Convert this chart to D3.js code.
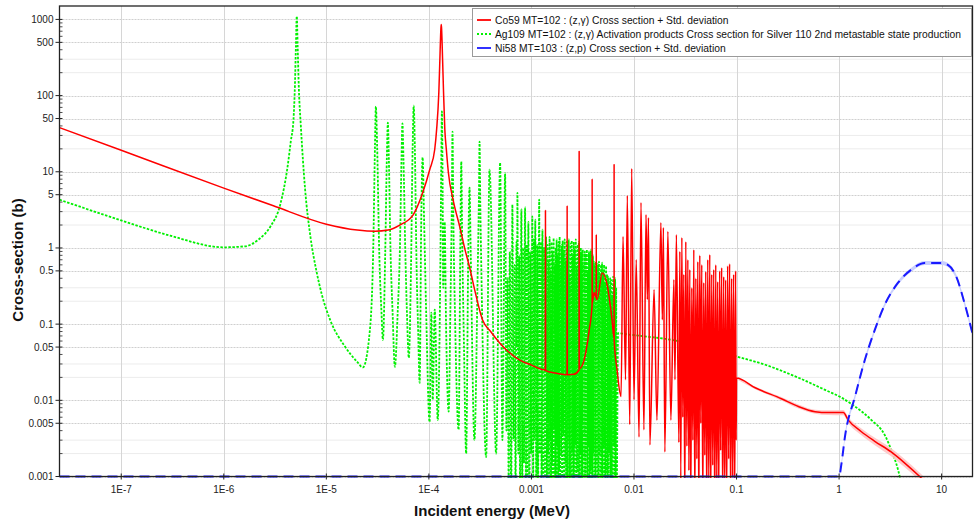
<!DOCTYPE html>
<html>
<head>
<meta charset="utf-8">
<script src="https://cdn.jsdelivr.net/npm/d3@7"></script>
<style>
  body { margin: 0; background: #fff; }
  text { font-family: "Liberation Sans", Arial, sans-serif; }
</style>
</head>
<body>
<div id="chart"></div>
<script>
// ---- data: [energy MeV, cross-section b] ----

// Co59 (z,g): 1/v part, 132 eV resonance, isolated spikes
const co59Low = [
  [2.5e-8, 38], [1e-7, 19.2], [1e-6, 6.1], [3e-6, 3.6], [1e-5, 2.05], [2e-5, 1.72],
  [3e-5, 1.66], [4e-5, 1.72], [5.2e-5, 2.0], [7e-5, 2.7], [8.7e-5, 5.3], [1.02e-4, 10.7],
  [1.14e-4, 19.6], [1.19e-4, 36], [1.25e-4, 110], [1.28e-4, 300], [1.31e-4, 760], [1.32e-4, 860],
  [1.33e-4, 760], [1.36e-4, 300], [1.39e-4, 110], [1.43e-4, 36], [1.48e-4, 19.6], [1.55e-4, 9.7],
  [1.72e-4, 4.3], [2.0e-4, 1.9], [2.25e-4, 0.95], [2.5e-4, 0.55], [2.8e-4, 0.28], [3.33e-4, 0.114],
  [4.0e-4, 0.08], [4.88e-4, 0.057], [6.0e-4, 0.043], [7.63e-4, 0.034],
  [1.0e-3, 0.029], [1.365e-3, 0.025], [1.37e-3, 3.1], [1.375e-3, 0.0245], [1.8e-3, 0.0225],
  [2.225e-3, 0.0217], [2.23e-3, 3.6], [2.235e-3, 0.0217], [2.6e-3, 0.022], [2.915e-3, 0.025],
  [2.92e-3, 18.5], [2.925e-3, 0.026], [3.27e-3, 0.034], [3.66e-3, 0.084], [3.905e-3, 0.18],
  [3.91e-3, 8.1], [3.915e-3, 0.19], [4.09e-3, 0.26], [4.285e-3, 0.22], [4.29e-3, 1.5],
  [4.295e-3, 0.21], [4.37e-3, 0.21], [4.89e-3, 0.47], [5.47e-3, 0.33], [6.11e-3, 0.114],
  [6.395e-3, 0.065], [6.4e-3, 12.4], [6.405e-3, 0.063], [6.84e-3, 0.025], [7.48e-3, 0.0112]
];

// Co59 resolved resonance forest 7.8 keV - 100 keV
const co59Forest = [
  [7.82e-3, 1.41], [8.27e-3, 0.0186], [8.61e-3, 4.87], [9.09e-3, 0.0048], [9.5e-3, 11.0],
  [1.0e-2, 0.0102], [1.052e-2, 0.70], [1.12e-2, 0.0033], [1.17e-2, 3.94], [1.25e-2, 0.0041],
  [1.31e-2, 2.74], [1.35e-2, 0.21], [1.384e-2, 2.5], [1.43e-2, 0.0026], [1.57e-2, 0.283],
  [1.674e-2, 0.0055], [1.83e-2, 2.15], [1.89e-2, 0.114], [1.935e-2, 1.85], [2.0e-2, 0.0021],
  [2.14e-2, 1.64], [2.29e-2, 0.0055], [2.45e-2, 0.383], [2.51e-2, 0.0186], [2.59e-2, 1.49],
  [0.0274, 0.0028], [0.0280, 0.9], [0.0286, 0.0009], [0.0293, 1.37], [0.0299, 0.006],
  [0.0306, 0.45], [0.0313, 0.0004], [0.0320, 1.21], [0.0328, 0.0025], [0.0335, 0.7],
  [0.0343, 0.0012], [0.0350, 0.52], [0.0358, 0.0004], [0.0366, 0.3], [0.0375, 0.003],
  [0.0383, 0.95], [0.0392, 0.0004], [0.0401, 0.4], [0.0410, 0.0017], [0.0419, 0.66],
  [0.0429, 0.0003], [0.0438, 0.8], [0.0448, 0.005], [0.0458, 0.60], [0.0469, 0.0004],
  [0.0479, 0.35], [0.0490, 0.0019], [0.0501, 0.49], [0.0512, 0.0004], [0.0524, 0.7],
  [0.0536, 0.0008], [0.0548, 0.82], [0.0560, 0.0004], [0.0573, 0.45], [0.0586, 0.0014],
  [0.0599, 0.52], [0.0613, 0.0003], [0.0627, 0.6], [0.0641, 0.0009], [0.0655, 0.36],
  [0.0670, 0.0004], [0.0685, 0.5], [0.0700, 0.0022], [0.0716, 0.55], [0.0733, 0.0004],
  [0.0749, 0.42], [0.0766, 0.0007], [0.0783, 0.38], [0.0801, 0.0004], [0.0819, 0.58],
  [0.0838, 0.0017], [0.0856, 0.62], [0.0876, 0.0004], [0.0896, 0.4], [0.0916, 0.001],
  [0.0937, 0.45], [0.0958, 0.0004], [0.0980, 0.5], [0.0991, 0.003]
];

// Co59 above 100 keV: [E, xs, relative std. deviation]
const co59High = [
  [0.1, 0.0197, 0.04], [0.152, 0.0146, 0.04], [0.274, 0.0105, 0.05], [0.401, 0.0083, 0.06],
  [0.583, 0.0071, 0.06], [0.785, 0.0069, 0.07], [1.1, 0.0069, 0.08], [1.23, 0.0055, 0.09],
  [1.64, 0.0039, 0.1], [2.23, 0.0029, 0.11], [3.22, 0.0021, 0.12], [4.37, 0.0015, 0.12],
  [6.11, 0.001, 0.12], [8, 0.0007, 0.12], [20, 0.0002, 0.12]
];

// Ag109 -> Ag110m: 1/v part and the 5.2 eV resonance
const agLow = [
  [2.5e-8, 4.3], [1e-7, 2.3], [3e-7, 1.45], [1e-6, 1.02], [1.6e-6, 1.05], [2.2e-6, 1.3],
  [2.84e-6, 1.9], [3.55e-6, 3.7], [4.2e-6, 12], [4.5e-6, 25], [4.78e-6, 48], [4.95e-6, 150],
  [5.05e-6, 450], [5.15e-6, 1100], [5.25e-6, 450], [5.4e-6, 120], [5.64e-6, 40], [6.2e-6, 6],
  [7e-6, 1.4], [8e-6, 0.5], [9e-6, 0.25], [1.1e-5, 0.11], [1.5e-5, 0.052], [2.0e-5, 0.032],
  [2.27e-5, 0.027]
];

// Ag109 resonances 30 eV - 1.4 keV
const agRes = [
  [2.66e-5, 0.084], [2.87e-5, 1.05], [2.98e-5, 21.7], [3.04e-5, 72], [3.13e-5, 21.7],
  [3.27e-5, 1.05], [3.45e-5, 0.141], [3.56e-5, 0.062], [3.76e-5, 1.0], [3.89e-5, 15],
  [3.98e-5, 44], [4.07e-5, 15], [4.22e-5, 1.0], [4.42e-5, 0.15], [4.66e-5, 0.0275],
  [4.97e-5, 0.15], [5.22e-5, 1.0], [5.41e-5, 15], [5.52e-5, 43], [5.65e-5, 15], [5.88e-5, 1.0],
  [6.1e-5, 0.15], [6.37e-5, 0.036], [6.7e-5, 0.6], [6.94e-5, 20], [7.12e-5, 74], [7.3e-5, 20],
  [7.58e-5, 0.6], [7.86e-5, 0.08], [8.13e-5, 0.017], [8.43e-5, 2.5], [8.69e-5, 15.4],
  [8.97e-5, 2.5], [9.4e-5, 0.15], [1.016e-4, 0.0052], [1.057e-4, 0.141], [1.09e-4, 0.0102],
  [1.14e-4, 0.155], [1.22e-4, 0.0055], [1.29e-4, 0.4], [1.32e-4, 12], [1.34e-4, 62],
  [1.36e-4, 8], [1.38e-4, 0.3], [1.425e-4, 2.2], [1.47e-4, 0.1], [1.56e-4, 0.0071],
  [1.62e-4, 0.15], [1.67e-4, 3], [1.70e-4, 33.7], [1.73e-4, 3], [1.80e-4, 0.12],
  [1.95e-4, 0.0041], [2.03e-4, 1.5], [2.07e-4, 13.6], [2.11e-4, 1.5], [2.2e-4, 0.05],
  [2.31e-4, 0.002], [2.42e-4, 0.8], [2.49e-4, 6.2], [2.56e-4, 0.8], [2.78e-4, 0.003],
  [3.0e-4, 0.6], [3.07e-4, 4], [3.12e-4, 24.9], [3.17e-4, 4], [3.25e-4, 0.5], [3.62e-4, 0.0018],
  [3.9e-4, 10.7], [4.53e-4, 0.002], [4.95e-4, 13.2], [5.21e-4, 0.003], [5.54e-4, 9.6],
  [5.7e-4, 0.004], [5.85e-4, 0.4], [6.0e-4, 0.0008], [6.15e-4, 0.9], [6.35e-4, 0.0005],
  [6.52e-4, 3.7], [6.7e-4, 0.003], [6.85e-4, 0.6], [7.0e-4, 0.0006], [7.15e-4, 1.2],
  [7.22e-4, 0.05], [7.3e-4, 5.3], [7.45e-4, 0.002], [7.6e-4, 0.8], [7.75e-4, 0.0005],
  [7.98e-4, 3.2], [8.15e-4, 0.0006], [8.3e-4, 1.0], [8.45e-4, 0.0015], [8.67e-4, 3.4],
  [8.85e-4, 0.0004], [9.0e-4, 1.1], [9.15e-4, 0.001], [9.33e-4, 2.2], [9.55e-4, 0.0004],
  [9.75e-4, 0.9], [9.95e-4, 0.002], [1.02e-3, 2.6], [1.04e-3, 0.0005], [1.055e-3, 1.3],
  [1.07e-3, 0.003], [1.09e-3, 2.35], [1.115e-3, 0.0006], [1.14e-3, 1.1], [1.16e-3, 0.0004],
  [1.19e-3, 4.3], [1.21e-3, 0.002], [1.235e-3, 1.2], [1.255e-3, 0.0005], [1.28e-3, 1.74],
  [1.305e-3, 0.001], [1.33e-3, 1.0], [1.36e-3, 0.0005], [1.39e-3, 1.4]
];

// Ag109 dense forest 1.42 keV - 6.8 keV (energies in MeV, alternating dip / top)
const agForestE = [
  1.420e-3, 1.436e-3, 1.452e-3, 1.469e-3, 1.486e-3, 1.503e-3, 1.520e-3, 1.537e-3, 1.554e-3, 1.572e-3,
  1.590e-3, 1.608e-3, 1.626e-3, 1.645e-3, 1.663e-3, 1.682e-3, 1.701e-3, 1.721e-3, 1.740e-3, 1.760e-3,
  1.780e-3, 1.800e-3, 1.821e-3, 1.842e-3, 1.863e-3, 1.884e-3, 1.905e-3, 1.927e-3, 1.949e-3, 1.971e-3,
  1.993e-3, 2.016e-3, 2.039e-3, 2.062e-3, 2.086e-3, 2.109e-3, 2.133e-3, 2.158e-3, 2.182e-3, 2.207e-3,
  2.232e-3, 2.258e-3, 2.283e-3, 2.309e-3, 2.336e-3, 2.362e-3, 2.389e-3, 2.417e-3, 2.444e-3, 2.472e-3,
  2.500e-3, 2.529e-3, 2.557e-3, 2.587e-3, 2.616e-3, 2.646e-3, 2.676e-3, 2.707e-3, 2.737e-3, 2.769e-3,
  2.800e-3, 2.832e-3, 2.864e-3, 2.897e-3, 2.930e-3, 2.963e-3, 2.997e-3, 3.031e-3, 3.066e-3, 3.100e-3,
  3.136e-3, 3.171e-3, 3.208e-3, 3.244e-3, 3.281e-3, 3.319e-3, 3.356e-3, 3.395e-3, 3.433e-3, 3.473e-3,
  3.512e-3, 3.552e-3, 3.593e-3, 3.634e-3, 3.675e-3, 3.717e-3, 3.759e-3, 3.802e-3, 3.845e-3, 3.889e-3,
  3.933e-3, 3.978e-3, 4.024e-3, 4.070e-3, 4.116e-3, 4.163e-3, 4.210e-3, 4.258e-3, 4.307e-3, 4.356e-3,
  4.405e-3, 4.456e-3, 4.506e-3, 4.558e-3, 4.610e-3, 4.662e-3, 4.715e-3, 4.769e-3, 4.824e-3, 4.879e-3,
  4.934e-3, 4.991e-3, 5.048e-3, 5.105e-3, 5.164e-3, 5.222e-3, 5.282e-3, 5.342e-3, 5.403e-3, 5.465e-3,
  5.527e-3, 5.590e-3, 5.654e-3, 5.718e-3, 5.783e-3, 5.849e-3, 5.916e-3, 5.984e-3, 6.052e-3, 6.121e-3,
  6.190e-3, 6.261e-3, 6.332e-3, 6.404e-3, 6.477e-3, 6.551e-3, 6.626e-3, 6.701e-3, 6.778e-3
];
const agForestXS = [
  0.0006, 1.1, 0.002, 0.7, 0.0004, 1.4, 0.003, 0.5, 0.0005, 1.2,
  0.0015, 0.9, 0.0003, 1.35, 0.004, 0.6, 0.0005, 1.0, 0.0004, 1.3,
  0.0025, 0.8, 0.0005, 1.2, 0.0012, 1.4, 0.0003, 0.55, 0.002, 1.1,
  0.0005, 1.25, 0.0035, 0.9, 0.0004, 1.3, 0.0015, 0.7, 0.0005, 1.2,
  0.0004, 1.0, 0.003, 1.3, 0.0005, 0.45, 0.0008, 1.15, 0.0004, 1.25,
  0.002, 0.8, 0.0005, 1.2, 0.0004, 0.95, 0.0025, 1.3, 0.0005, 0.6,
  0.0012, 1.1, 0.0004, 1.2, 0.0005, 0.85, 0.002, 1.0, 0.0004, 0.9,
  0.0006, 0.95, 0.0015, 0.6, 0.0004, 0.9, 0.0005, 0.8, 0.002, 0.95,
  0.0004, 0.5, 0.0025, 0.9, 0.0005, 0.85, 0.0012, 0.95, 0.0004, 0.7,
  0.0005, 0.8, 0.002, 0.66, 0.0004, 0.6, 0.0006, 0.66, 0.0015, 0.5,
  0.0004, 0.62, 0.0005, 0.66, 0.002, 0.45, 0.0004, 0.6, 0.0006, 0.64,
  0.0004, 0.5, 0.0025, 0.6, 0.0005, 0.35, 0.0004, 0.58, 0.0012, 0.45,
  0.0004, 0.42, 0.0005, 0.3, 0.002, 0.4, 0.0004, 0.38, 0.0006, 0.25,
  0.0004, 0.42, 0.0025, 0.35, 0.0005, 0.4, 0.0004, 0.3, 0.0006
];

// Ag109 smooth part above 7 keV
const agHigh = [
  [7.0e-3, 0.076], [8.94e-3, 0.073], [0.027, 0.06], [0.1, 0.0376], [0.19, 0.0293],
  [0.401, 0.0198], [0.73, 0.0137], [1.06, 0.0108], [1.43, 0.0083], [2.07, 0.0055],
  [2.79, 0.0035], [3.24, 0.0022], [3.76, 0.00122], [3.9, 0.001], [4.5, 0.0003]
];

// Ni58 (z,p): [E, xs, relative std. deviation]
const ni58 = [
  [2.5e-8, 0.001, 0], [1.0, 0.001, 0.08], [1.057, 0.0015, 0.08], [1.14, 0.0033, 0.08],
  [1.43, 0.0112, 0.08], [1.785, 0.034, 0.07], [2.23, 0.084, 0.07], [2.79, 0.18, 0.06],
  [3.76, 0.35, 0.06], [5.07, 0.52, 0.06], [6.84, 0.635, 0.06], [9.91, 0.635, 0.06],
  [11.5, 0.6, 0.06], [13.9, 0.42, 0.07], [16.7, 0.19, 0.08], [20, 0.075, 0.08]
];

const xTickValues = [1e-7, 1e-6, 1e-5, 1e-4, 1e-3, 1e-2, 0.1, 1, 10];
const xTickLabels = ["1E-7", "1E-6", "1E-5", "1E-4", "0.001", "0.01", "0.1", "1", "10"];
const yTickValues = [0.001, 0.005, 0.01, 0.05, 0.1, 0.5, 1, 5, 10, 50, 100, 500, 1000];
const yTickLabels = ["0.001", "0.005", "0.01", "0.05", "0.1", "0.5", "1", "5", "10", "50", "100", "500", "1000"];

const legendLabels = [
  "Co59 MT=102 : (z,\u03b3) Cross section + Std. deviation",
  "Ag109 MT=102 : (z,\u03b3) Activation products Cross section for Silver 110 2nd metastable state production",
  "Ni58 MT=103 : (z,p) Cross section + Std. deviation"
];

// ---- layout ----
const width = 976, height = 521;
const plotLeft = 59.5, plotRight = 972.5, plotTop = 6, plotBottom = 476.5;

const svg = d3.select("#chart").append("svg")
  .attr("width", width)
  .attr("height", height);

const x = d3.scaleLog().domain([2.5e-8, 20]).range([plotLeft, plotRight]);
const y = d3.scaleLog().domain([0.001, 1500]).range([plotBottom, plotTop]);

// grid
const grid = svg.append("g");
const minorY = y.ticks().filter(v => {
  const m = Math.round(v / Math.pow(10, Math.floor(Math.log10(v) + 1e-9)));
  return m === 2 || m === 3;
});
grid.selectAll("line.minor").data(minorY).enter().append("line")
  .attr("x1", plotLeft).attr("x2", plotRight)
  .attr("y1", d => y(d)).attr("y2", d => y(d))
  .attr("stroke", "#ececec").attr("stroke-width", 1);
grid.selectAll("line.hmaj").data(yTickValues).enter().append("line")
  .attr("x1", plotLeft).attr("x2", plotRight)
  .attr("y1", d => Math.round(y(d)) + 0.5).attr("y2", d => Math.round(y(d)) + 0.5)
  .attr("stroke", "#cfcfcf").attr("stroke-dasharray", "2,1").attr("stroke-width", 1);
grid.selectAll("line.v").data(xTickValues).enter().append("line")
  .attr("x1", d => Math.round(x(d)) + 0.5).attr("x2", d => Math.round(x(d)) + 0.5)
  .attr("y1", plotTop).attr("y2", plotBottom)
  .attr("stroke", "#d6d6d6").attr("stroke-width", 1);

// curves
svg.append("defs").append("clipPath").attr("id", "plot-clip")
  .append("rect").attr("x", plotLeft).attr("y", plotTop)
  .attr("width", plotRight - plotLeft).attr("height", plotBottom - plotTop + 1.5);

const plot = svg.append("g").attr("clip-path", "url(#plot-clip)");

const line = d3.line()
  .curve(d3.curveMonotoneX)
  .x(d => x(d[0]))
  .y(d => y(Math.max(d[1], 1e-5)));

const band = d3.area()
  .curve(d3.curveMonotoneX)
  .x(d => x(d[0]))
  .y0(d => y(Math.max(d[1] * (1 - d[2]), 1e-5)))
  .y1(d => y(Math.max(d[1] * (1 + d[2]), 1e-5)));

const agForest = agForestE.map((e, i) => [e, agForestXS[i]]);
const agAll = agLow.concat(agRes, agForest, agHigh);
const coAll = co59Low.concat(co59Forest, co59High);

plot.append("path").datum(agAll)
  .attr("d", line).attr("fill", "none")
  .attr("stroke", "#00f000").attr("stroke-width", 1.8)
  .attr("stroke-dasharray", "2.5,1.5");

plot.append("path").datum(co59High)
  .attr("d", band).attr("fill", "#ffc4c4").attr("opacity", 0.9);

plot.append("path").datum(coAll)
  .attr("d", line).attr("fill", "none")
  .attr("stroke", "#ff0000").attr("stroke-width", 1.5)
  .attr("stroke-linejoin", "round");

plot.append("path").datum(ni58.filter(d => d[2] > 0))
  .attr("d", band).attr("fill", "#c9cfff");

plot.append("path").datum(ni58)
  .attr("d", line).attr("fill", "none")
  .attr("stroke", "#1a1aff").attr("stroke-width", 2)
  .attr("stroke-dasharray", "10,6");

// frame and axes
svg.append("rect")
  .attr("x", plotLeft).attr("y", plotTop)
  .attr("width", plotRight - plotLeft).attr("height", plotBottom - plotTop)
  .attr("fill", "none").attr("stroke", "#222").attr("stroke-width", 1.3);

const axes = svg.append("g").attr("stroke", "#222");
axes.selectAll("line.ymaj").data(yTickValues).enter().append("line")
  .attr("x1", plotLeft - 4).attr("x2", plotLeft + 3)
  .attr("y1", d => y(d)).attr("y2", d => y(d)).attr("stroke-width", 1);
axes.selectAll("line.ymin").data(y.ticks().filter(v => yTickValues.indexOf(v) < 0)).enter().append("line")
  .attr("x1", plotLeft).attr("x2", plotLeft + 3)
  .attr("y1", d => y(d)).attr("y2", d => y(d)).attr("stroke-width", 0.8);
axes.selectAll("line.xmaj").data(xTickValues).enter().append("line")
  .attr("x1", d => x(d)).attr("x2", d => x(d))
  .attr("y1", plotBottom - 3).attr("y2", plotBottom + 3).attr("stroke-width", 1);

svg.selectAll("text.ytick").data(yTickValues).enter().append("text")
  .attr("x", plotLeft - 6).attr("y", d => y(d))
  .attr("text-anchor", "end").attr("dominant-baseline", "central")
  .attr("font-size", 10).attr("fill", "#222")
  .text((d, i) => yTickLabels[i]);

svg.selectAll("text.xtick").data(xTickValues).enter().append("text")
  .attr("x", d => x(d)).attr("y", 489)
  .attr("text-anchor", "middle").attr("dominant-baseline", "central")
  .attr("font-size", 10).attr("fill", "#222")
  .text((d, i) => xTickLabels[i]);

svg.append("text")
  .attr("x", 492).attr("y", 510)
  .attr("text-anchor", "middle").attr("dominant-baseline", "central")
  .attr("font-size", 15).attr("font-weight", "bold").attr("fill", "#111")
  .text("Incident energy (MeV)");

svg.append("text")
  .attr("transform", "translate(17,260) rotate(-90)")
  .attr("text-anchor", "middle").attr("dominant-baseline", "central")
  .attr("font-size", 15).attr("font-weight", "bold").attr("fill", "#111")
  .text("Cross-section (b)");

// legend
const legend = svg.append("g");
legend.append("rect")
  .attr("x", 472.5).attr("y", 8.5).attr("width", 499).attr("height", 48)
  .attr("fill", "#fff").attr("stroke", "#9a9a9a");

const legendStyles = [
  {color: "#ff0000", dash: null},
  {color: "#00f000", dash: "2,2"},
  {color: "#1a1aff", dash: null}
];
legendLabels.forEach((lab, i) => {
  const ly = 20 + i * 14;
  legend.append("line")
    .attr("x1", 477).attr("x2", 491).attr("y1", ly).attr("y2", ly)
    .attr("stroke", legendStyles[i].color).attr("stroke-width", 1.8)
    .attr("stroke-dasharray", legendStyles[i].dash);
  legend.append("text")
    .attr("x", 495).attr("y", ly)
    .attr("dominant-baseline", "central")
    .attr("font-size", 10.3).attr("fill", "#111")
    .text(lab);
});
</script>
</body>
</html>
